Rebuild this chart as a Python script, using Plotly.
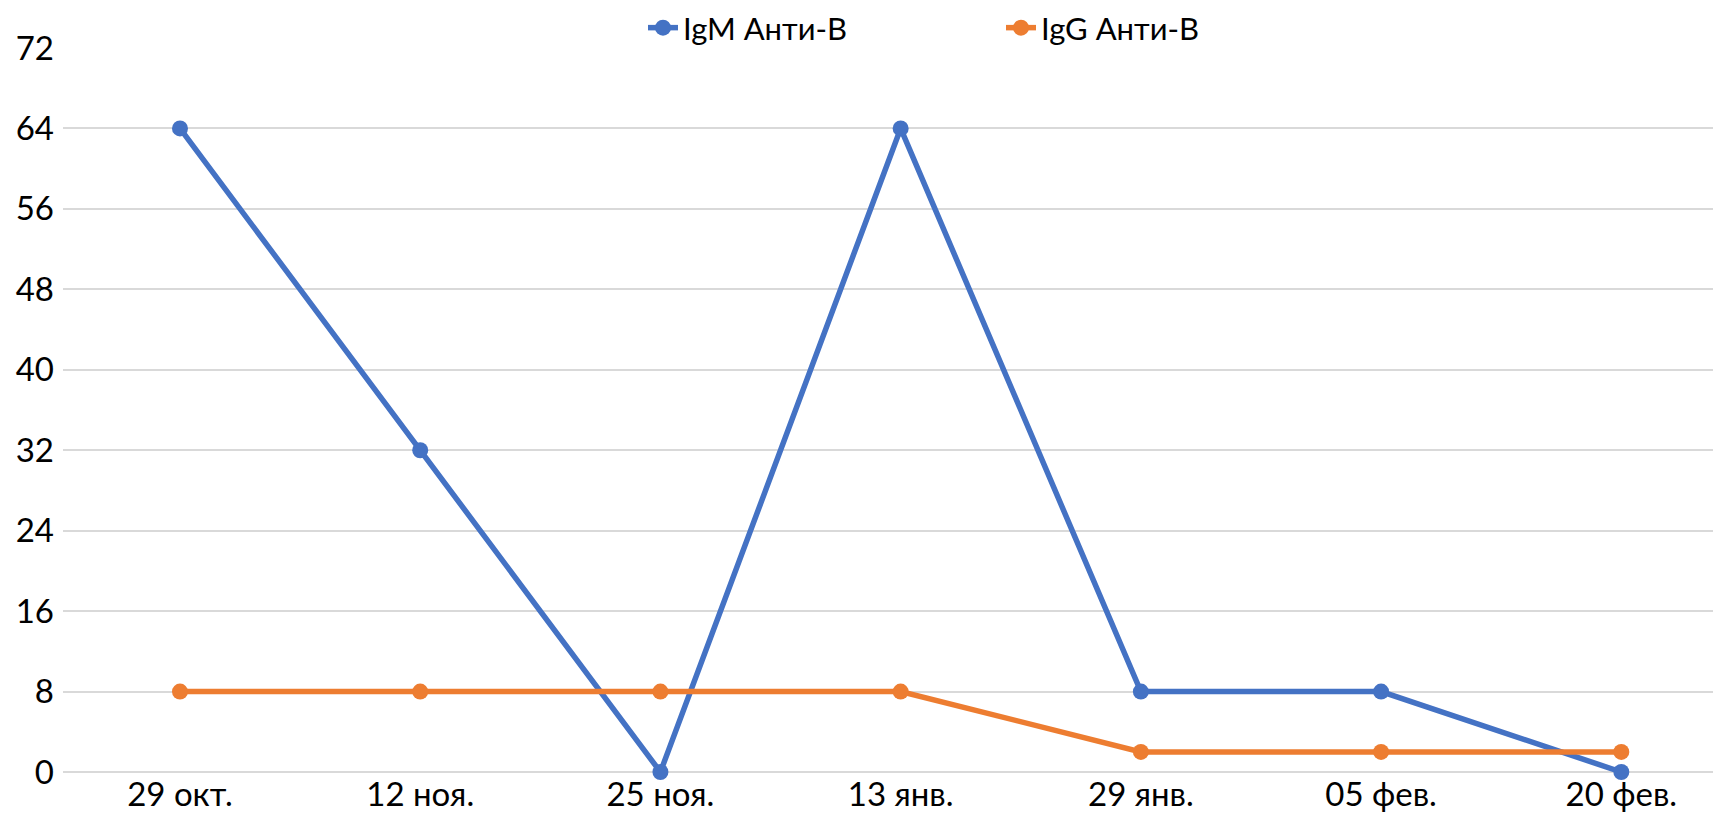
import plotly.graph_objects as go

categories = ["29 окт.", "12 ноя.", "25 ноя.", "13 янв.", "29 янв.", "05 фев.", "20 фев."]
igm_values = [64, 32, 0, 64, 8, 8, 0]
igg_values = [8, 8, 8, 8, 2, 2, 2]
y_ticks = [0, 8, 16, 24, 32, 40, 48, 56, 64, 72]

fig = go.Figure()
fig.add_trace(go.Scatter(
    x=categories, y=igm_values, name="IgM Анти-В", mode="lines+markers",
    line=dict(color="#4472C4", width=5.5), marker=dict(size=16, color="#4472C4"),
    cliponaxis=False))
fig.add_trace(go.Scatter(
    x=categories, y=igg_values, name="IgG Анти-В", mode="lines+markers",
    line=dict(color="#ED7D31", width=5.5), marker=dict(size=16, color="#ED7D31"),
    cliponaxis=False))

fig.update_layout(
    width=1713, height=806,
    margin=dict(l=55, r=0, t=40, b=42, autoexpand=False),
    paper_bgcolor="white", plot_bgcolor="white",
    font=dict(family="Lato, Calibri, sans-serif", size=33, color="black"),
    legend=dict(orientation="h", x=0.3707, xanchor="left", xref="container",
                y=0.9752, yanchor="middle", yref="container",
                font=dict(size=31), entrywidth=313, entrywidthmode="pixels"),
    showlegend=True,
)
fig.update_xaxes(type="category", range=[-0.487, 6.415], showgrid=False, showline=False,
                 ticks="", zeroline=False)
fig.update_yaxes(range=[0, 72], tickvals=y_ticks, showgrid=True, gridcolor="#D9D9D9",
                 gridwidth=1.5, zeroline=True, zerolinecolor="#D9D9D9", zerolinewidth=1.5,
                 showline=False, ticks="", ticklabelstandoff=8)

fig.write_html("out.html")
